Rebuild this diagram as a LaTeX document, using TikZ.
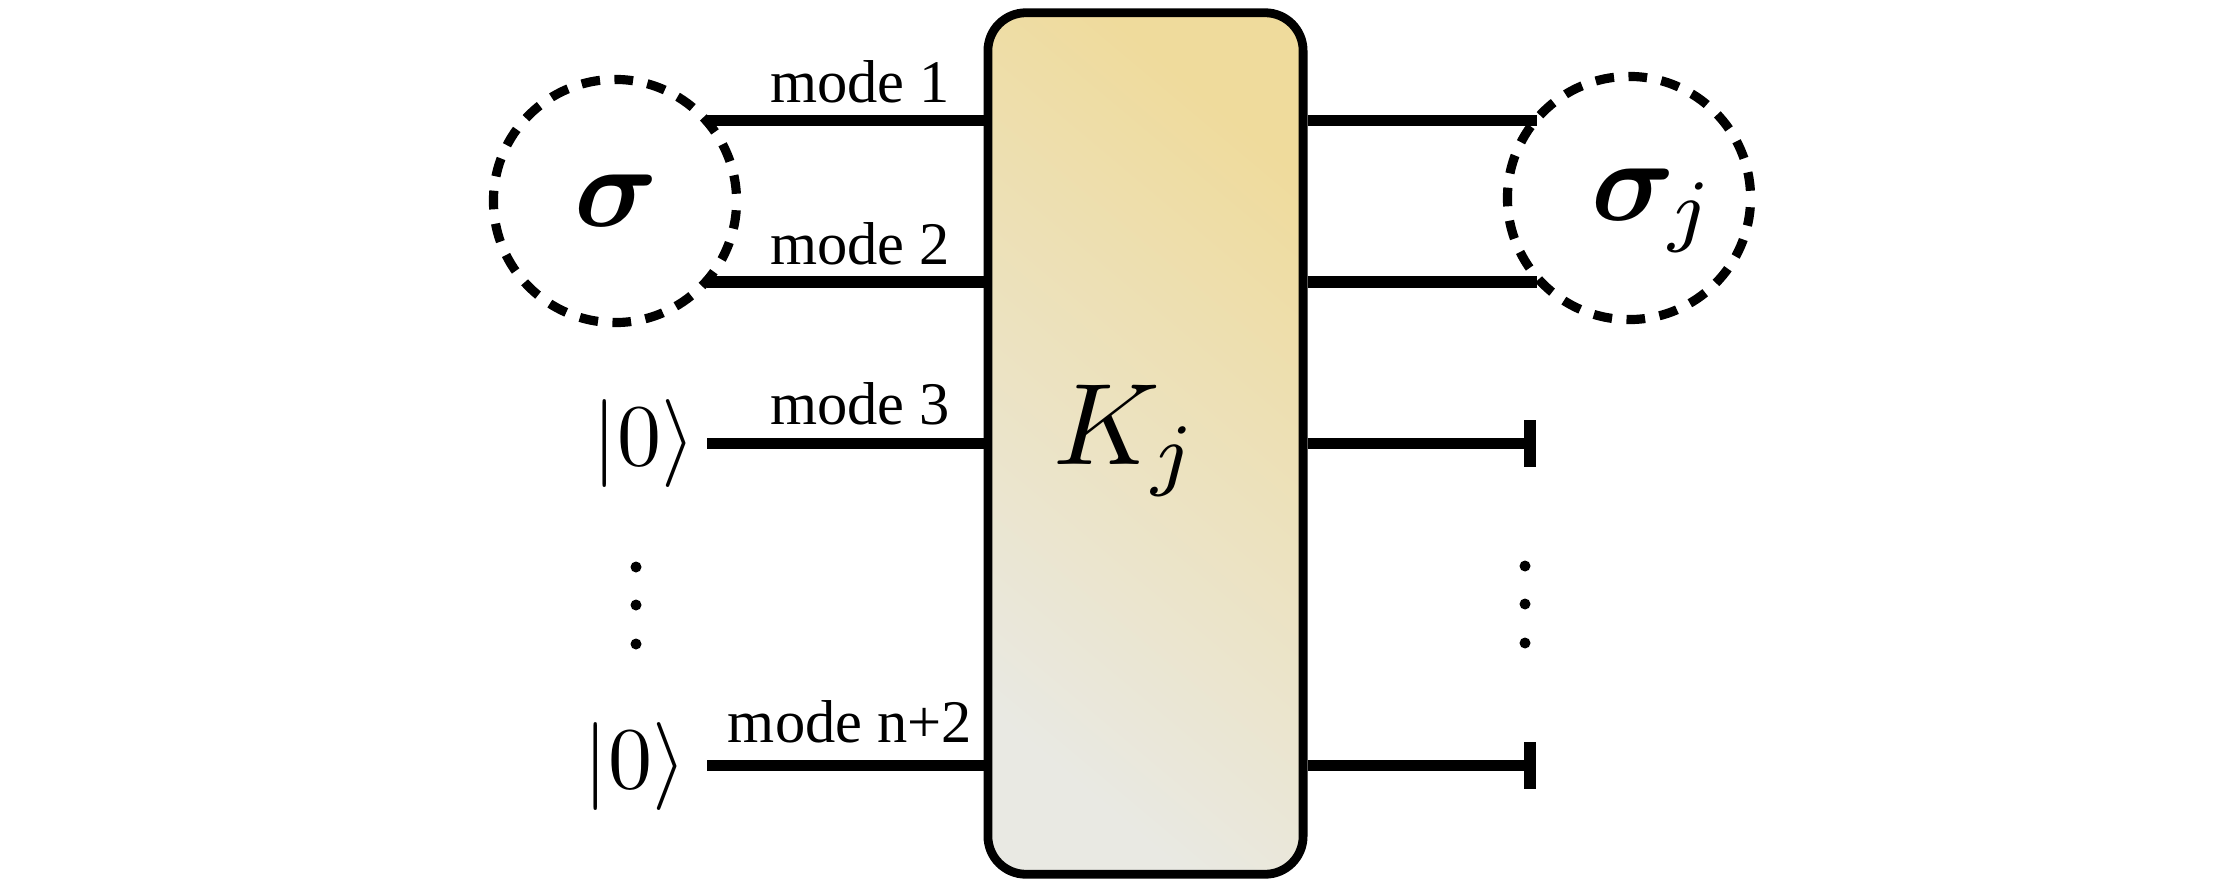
\documentclass[tikz,border=0pt]{standalone}
\usepackage{amsmath,amsbsy}
\usepackage{fontspec}
\newfontfamily\modefont{Liberation Serif}
\definecolor{gold}{HTML}{EFDB9C}
\definecolor{pale}{HTML}{E9E9E3}
\tikzset{
  wire/.style={line width=3.3pt,line cap=butt},
  modelabel/.style={font=\modefont\fontsize{17.2}{20}\selectfont,inner sep=0pt,anchor=base},
  mathlabel/.style={inner sep=0pt,anchor=base west,transform shape},
  statecirc/.style={circle,draw,line width=2.6pt,minimum size=2.43cm,inner sep=0pt,
    dash pattern=on 5.3pt off 4.12pt,dash phase=7.36pt},
  dotmark/.style={circle,fill=black,inner sep=0pt,minimum size=0.11cm},
  termbar/.style={line width=3.3pt,line cap=butt}
}
\begin{document}
\begin{tikzpicture}[x=0.01cm,y=-0.01cm]
\useasboundingbox (0,0) rectangle (2222,888);
% unitary box
\node[rounded corners=0.38cm,draw,line width=2.5pt,inner sep=0pt,
  minimum width=3.15cm,minimum height=8.61cm,
  shading=axis,top color=gold,bottom color=pale,shading angle=-40] (K) at (1145.5,443.5) {};
\node[mathlabel,scale=3.3] (Klabel) at (1051,464) {$K$};
\node[mathlabel,scale=3.3] (jlabel) at (1148,480) {$\scriptstyle j$};
% state circles
\node[statecirc] (sigL) at (615,201) {};
\node[statecirc] (sigR) at (1629,198) {};
\node[mathlabel,scale=3.3] (sigLt) at (572,226) {$\boldsymbol{\sigma}$};
\node[mathlabel,scale=3.3] (sigRt) at (1589,220) {$\boldsymbol{\sigma}$};
\node[mathlabel,scale=3.3] (sigRj) at (1665,236) {$\scriptstyle j$};
% input ends
\coordinate (i1) at (707,120.5);
\coordinate (i2) at (707,282);
\coordinate (i3) at (707,443.5);
\coordinate (i4) at (707,765.5);
\coordinate (o1) at (1537,120.5);
\coordinate (o2) at (1537,282);
\coordinate (o3) at (1530,443.5);
\coordinate (o4) at (1530,765.5);
\coordinate (b3t) at (1530,420);
\coordinate (b3b) at (1530,467);
\coordinate (b4t) at (1530,742);
\coordinate (b4b) at (1530,789);
\foreach \s in {i1,i2,i3,i4} \draw[wire] (\s) -- (\s -| K.west);
\foreach \s in {o1,o2,o3,o4} \draw[wire] (\s -| K.east) -- (\s);
\draw[termbar] (b3t) -- (b3b);
\draw[termbar] (b4t) -- (b4b);
% labels
\node[modelabel] (m1) at (860,103) {mode 1};
\node[modelabel] (m2) at (860,264) {mode 2};
\node[modelabel] (m3) at (860,424) {mode 3};
\node[modelabel] (m4) at (850,742) {mode n+2};
\node[inner sep=0pt,scale=2.5,transform shape] (k1) at (644,444) {$|0\rangle$};
\node[inner sep=0pt,scale=2.5,transform shape] (k2) at (635,767) {$|0\rangle$};
% dots
\foreach \y/\n in {567/a,605/b,644/c} \node[dotmark] (dl\n) at (636,\y) {};
\foreach \y/\n in {566/a,604/b,643/c} \node[dotmark] (dr\n) at (1525,\y) {};
\end{tikzpicture}
\end{document}
